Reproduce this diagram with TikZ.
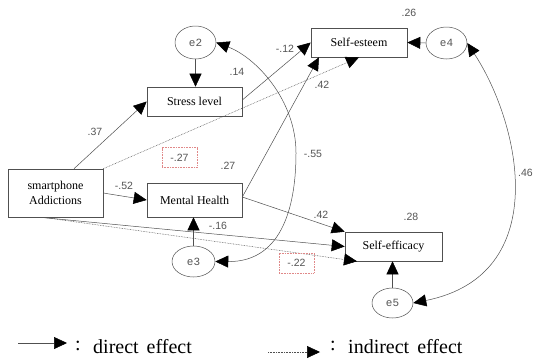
\documentclass[tikz,border=0pt]{standalone}
\usepackage{fontspec}
\setmainfont{Liberation Serif}
\newfontfamily\numfont{Liberation Sans}
\newfontfamily\errfont{Liberation Mono}
\usetikzlibrary{arrows.meta,shapes.geometric,calc}
\definecolor{ln}{HTML}{505050}
\definecolor{lbl}{HTML}{555555}
\definecolor{pinkred}{HTML}{E08888}
\begin{document}
\begin{tikzpicture}[x=1pt,y=-1pt,
  box/.style={draw=ln, line width=0.6pt, inner sep=0pt, align=center, font=\fontsize{12}{15}\selectfont},
  err/.style={draw=ln, line width=0.5pt, ellipse, inner sep=0pt, text=lbl, font=\errfont\fontsize{11}{12}\selectfont},
  num/.style={inner sep=0pt, text=lbl, font=\numfont\fontsize{10.5}{12}\selectfont},
  ind/.style={num, draw=pinkred, line width=0.5pt, dash pattern=on 0.8pt off 0.8pt, minimum width=35pt, minimum height=20pt},
  arr/.style={draw=ln, line width=0.5pt, -{Triangle[length=13pt,width=12pt,color=black]}},
  dotarr/.style={arr, dash pattern=on 0.7pt off 0.9pt},
  dbl/.style={draw=ln, line width=0.5pt, {Triangle[length=13pt,width=12pt,color=black]}-{Triangle[length=13pt,width=12pt,color=black]}},
  legtext/.style={inner sep=0pt, font=\fontsize{20}{22}\selectfont}
]
\fill[white] (0,0) rectangle (534,359);
\useasboundingbox (0,0) rectangle (534,359);

% boxes
\node[box, minimum width=95pt, minimum height=48pt] (sa) at (55.5,193) {smartphone\\Addictions};
\node[box, minimum width=95pt, minimum height=29pt] (st) at (194.5,101.5) {Stress level};
\node[box, minimum width=95pt, minimum height=34pt] (mh) at (194.5,200) {Mental Health};
\node[box, minimum width=96pt, minimum height=29pt] (se) at (359,42.5) {Self-esteem};
\node[box, minimum width=97pt, minimum height=29pt] (sef) at (393.5,246.5) {Self-efficacy};

% error terms
\node[err, minimum width=41pt, minimum height=33pt] (e2) at (195.5,42.5) {e2};
\node[err, minimum width=43pt, minimum height=31pt] (e3) at (193.5,261.5) {e3};
\node[err, minimum width=41pt, minimum height=32pt] (e4) at (446.5,43) {e4};
\node[err, minimum width=41pt, minimum height=30pt] (e5) at (392.5,303) {e5};

% paths
\draw[arr] ([xshift=18.5pt]sa.north) -- (st.west);
\draw[dotarr] (sa.north east) -- (se.south);
\draw[arr] ([yshift=1.5pt]st.east) -- (se.west);
\draw[arr] ([yshift=3pt]mh.east) -- ([xshift=-40pt]se.south);
\draw[arr] ([yshift=3pt]mh.east) -- (sef.north west);
\draw[arr] (sa.east) -- (mh.west);
\draw[arr] ([xshift=-15.5pt]sa.south) -- (sef.west);
\draw[dotarr] ([xshift=-12.5pt]sa.south) -- ([xshift=-36.5pt]sef.south);
\draw[arr] (e2.south) -- (e2.south |- st.north);
\draw[arr] (e3.north) -- (e3.north |- mh.south);
\draw[arr] (e4.west) -- (se.east);
\draw[arr] (e5.north) -- (e5.north |- sef.south);

% covariances
\coordinate (cmid) at (296,153);
\draw[dbl] (e2.east) .. controls (256,57.5) and (296,100) .. (cmid) .. controls (296,200) and (285,262) .. (e3.east);
\draw[dbl] (e4.east) .. controls (521,125) and (553,275) .. (e5.east);

% labels
\node[num] (l26) at (409,13) {.26};
\node[num] (l14) at (237,72) {.14};
\node[num] (l12) at (285,49) {-.12};
\node[num] (l42a) at (322,85) {.42};
\node[num] (l37) at (95,132) {.37};
\node[ind] (l27i) at (179.5,157.5) {-.27};
\node[num] (l27) at (228,166) {.27};
\node[num] (l55) at (313,154) {-.55};
\node[num] (l52) at (124,186) {-.52};
\node[num] (l16) at (218,226) {-.16};
\node[num] (l42b) at (321,215) {.42};
\node[num] (l28) at (411,217) {.28};
\node[ind] (l22i) at (296.5,263) {-.22};
\node[num, anchor=east] (l46) at (533,173) {.46};

% legend
\coordinate (la1) at (18,343);
\coordinate (la2) at (67,343);
\draw[arr] (la1) -- (la2);
\node[legtext, anchor=base] (lc1) at (78,350) {:};
\node[legtext, anchor=base west] (lt1) at (93,353) {direct\hspace{8pt}effect};
\coordinate (lb1) at (268,352);
\coordinate (lb2) at (320,352);
\draw[dotarr] (lb1) -- (lb2);
\node[legtext, anchor=base] (lc2) at (333,350) {:};
\node[legtext, anchor=base west] (lt2) at (348,353) {indirect\hspace{8pt}effect};
\end{tikzpicture}
\end{document}
